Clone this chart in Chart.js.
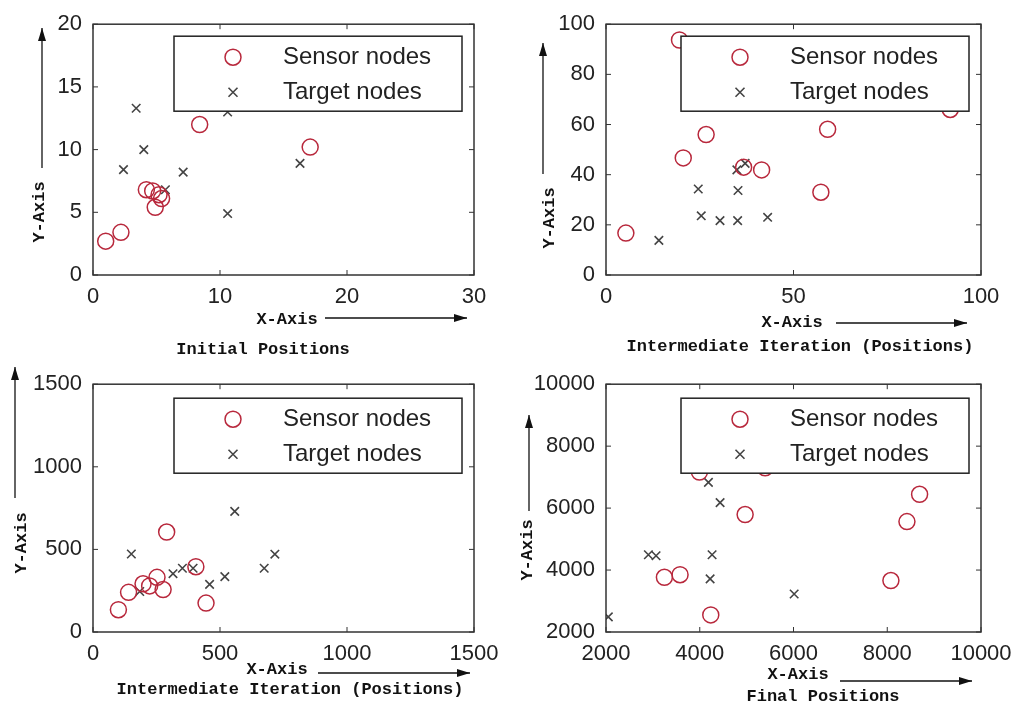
<!DOCTYPE html>
<html>
<head>
<meta charset="utf-8">
<script src="https://cdn.jsdelivr.net/npm/chart.js@4.4.0/dist/chart.umd.min.js"></script>
<style>
    body { margin: 0; background: #fff; }
    #lienzo { position: relative; width: 1029px; height: 708px; }
    #lienzo canvas { position: absolute; }
</style>
</head>
<body>
<div id="lienzo">
    <canvas id="graficoInicial" width="514" height="360" style="left:0;top:0"></canvas>
    <canvas id="graficoIntermedio1" width="515" height="360" style="left:514px;top:0"></canvas>
    <canvas id="graficoIntermedio2" width="514" height="348" style="left:0;top:360px"></canvas>
    <canvas id="graficoFinal" width="515" height="348" style="left:514px;top:360px"></canvas>
</div>
<script>
// Datos: pares [x, y]
const sensoresInicial = [[1.0, 2.7], [2.2, 3.4], [4.2, 6.8], [4.7, 6.7], [5.2, 6.4], [5.4, 6.1], [4.9, 5.4], [8.4, 12.0], [17.1, 10.2]];
const objetivosInicial = [[3.4, 13.3], [4.0, 10.0], [2.4, 8.4], [7.1, 8.2], [10.6, 13.0], [10.6, 4.9], [16.3, 8.9], [5.7, 6.8]];

const sensoresIntermedio1 = [[19.6, 93.7], [20.6, 46.7], [26.7, 56], [5.3, 16.7], [36.7, 43], [41.5, 41.9], [59.1, 58.1], [57.3, 33], [91.8, 66]];
const objetivosIntermedio1 = [[14.1, 13.8], [24.6, 34.3], [25.4, 23.6], [30.4, 21.7], [35.1, 21.7], [35.2, 33.7], [34.9, 41.9], [37.1, 44.5], [43.1, 23]];

const sensoresIntermedio2 = [[100, 135], [140, 240], [197, 292], [223, 279], [252, 331], [276, 257], [290, 605], [405, 395], [445, 175]];
const objetivosIntermedio2 = [[151, 472], [184, 245], [315, 353], [352, 386], [394, 386], [459, 288], [519, 335], [558, 730], [674, 386], [716, 471]];

const sensoresFinal = [[3993, 7164], [5395, 7299], [4968, 5792], [3246, 3766], [3580, 3849], [4235, 2551], [8078, 3662], [8420, 5564], [8690, 6447]];
const objetivosFinal = [[2050, 2488], [2904, 4494], [3068, 4462], [4185, 6831], [4434, 6177], [4263, 4494], [4221, 3714], [6014, 3226]];

const etiquetasSerie = ['Sensor nodes', 'Target nodes'];

const ejesInicial = { x: [0, 30, 10], y: [0, 20, 5] };
const ejesIntermedio1 = { x: [0, 100, 50], y: [0, 100, 20] };
const ejesIntermedio2 = { x: [0, 1500, 500], y: [0, 1500, 500] };
const ejesFinal = { x: [2000, 10000, 2000], y: [2000, 10000, 2000] };

const FUENTE_TICKS = { family: "'Liberation Sans', Arial, sans-serif", size: 22 };
const FUENTE_MONO = "bold 17px 'Liberation Mono', 'Courier New', monospace";
const ROJO = '#b8283c';
const GRIS = '#444';

function aPuntos(pares) {
    return pares.map(p => ({ x: p[0], y: p[1] }));
}

function flecha(ctx, x1, y1, x2, y2) {
    const ang = Math.atan2(y2 - y1, x2 - x1);
    ctx.beginPath();
    ctx.moveTo(x1, y1);
    ctx.lineTo(x2, y2);
    ctx.stroke();
    ctx.beginPath();
    ctx.moveTo(x2, y2);
    ctx.lineTo(x2 - 13 * Math.cos(ang) + 4 * Math.sin(ang), y2 - 13 * Math.sin(ang) - 4 * Math.cos(ang));
    ctx.lineTo(x2 - 13 * Math.cos(ang) - 4 * Math.sin(ang), y2 - 13 * Math.sin(ang) + 4 * Math.cos(ang));
    ctx.closePath();
    ctx.fill();
}

function marcador(ctx, tipo, x, y) {
    ctx.beginPath();
    if (tipo === 'circle') {
        ctx.strokeStyle = ROJO;
        ctx.lineWidth = 1.5;
        ctx.arc(x, y, 8, 0, Math.PI * 2);
    } else {
        ctx.strokeStyle = GRIS;
        ctx.lineWidth = 1.6;
        ctx.moveTo(x - 4.5, y - 4.5); ctx.lineTo(x + 4.5, y + 4.5);
        ctx.moveTo(x + 4.5, y - 4.5); ctx.lineTo(x - 4.5, y + 4.5);
    }
    ctx.stroke();
}

// Caja, marcas interiores, leyenda y rotulos con flechas
const marcoPlugin = {
    id: 'marco',
    afterDatasetsDraw(chart, args, opts) {
        const { ctx, chartArea: a, scales } = chart;
        ctx.save();
        ctx.strokeStyle = '#333';
        ctx.lineWidth = 1.5;
        ctx.strokeRect(a.left, a.top, a.width, a.height);

        ctx.lineWidth = 1;
        ctx.beginPath();
        scales.x.ticks.forEach(t => {
            const px = scales.x.getPixelForValue(t.value);
            ctx.moveTo(px, a.bottom); ctx.lineTo(px, a.bottom - 5);
            ctx.moveTo(px, a.top); ctx.lineTo(px, a.top + 5);
        });
        scales.y.ticks.forEach(t => {
            const py = scales.y.getPixelForValue(t.value);
            ctx.moveTo(a.left, py); ctx.lineTo(a.left + 5, py);
            ctx.moveTo(a.right, py); ctx.lineTo(a.right - 5, py);
        });
        ctx.stroke();

        // leyenda dentro del area
        const ancho = 288, alto = 75;
        const lx = a.right - 12 - ancho;
        const ly = a.top + opts.leyendaTop;
        ctx.fillStyle = '#fff';
        ctx.fillRect(lx, ly, ancho, alto);
        ctx.strokeStyle = '#222';
        ctx.lineWidth = 1.5;
        ctx.strokeRect(lx, ly, ancho, alto);
        ctx.font = "24px 'Liberation Sans', Arial, sans-serif";
        ctx.textBaseline = 'middle';
        ctx.textAlign = 'left';
        chart.data.datasets.forEach((ds, i) => {
            const fy = ly + 21 + i * 35;
            marcador(ctx, ds.pointStyle, lx + 59, fy);
            ctx.fillStyle = '#222';
            ctx.fillText(ds.label, lx + 109, fy);
        });
        ctx.restore();
    },
    afterDraw(chart, args, opts) {
        const ctx = chart.ctx;
        ctx.save();
        ctx.fillStyle = '#111';
        ctx.strokeStyle = '#111';
        ctx.lineWidth = 1.3;
        ctx.font = FUENTE_MONO;
        ctx.textBaseline = 'middle';
        ctx.textAlign = 'center';

        ctx.fillText('X-Axis', opts.ejeX[0], opts.ejeX[1]);
        flecha(ctx, opts.flechaX[0], opts.flechaX[2], opts.flechaX[1], opts.flechaX[2]);

        ctx.save();
        ctx.translate(opts.ejeY[0], opts.ejeY[1]);
        ctx.rotate(-Math.PI / 2);
        ctx.fillText('Y-Axis', 0, 0);
        ctx.restore();
        flecha(ctx, opts.flechaY[0], opts.flechaY[1], opts.flechaY[0], opts.flechaY[2]);

        ctx.fillText(opts.titulo, opts.posTitulo[0], opts.posTitulo[1]);
        ctx.restore();
    }
};

function crearGrafico(id, sensores, objetivos, ejes, anchoY, altoX, padDer, padSup, marco) {
    const ctx = document.getElementById(id).getContext('2d');
    const escala = (rango, esX) => ({
        type: 'linear',
        min: rango[0],
        max: rango[1],
        grid: { display: false, drawTicks: false },
        border: { display: false },
        ticks: {
            stepSize: rango[2],
            autoSkip: false,
            maxRotation: 0,
            padding: esX ? 9 : 11,
            color: '#222',
            font: FUENTE_TICKS,
            callback: v => String(v)
        },
        afterFit: s => {
            if (esX) s.height = altoX; else s.width = anchoY;
        }
    });
    return new Chart(ctx, {
        type: 'scatter',
        data: {
            datasets: [{
                label: etiquetasSerie[0],
                data: aPuntos(sensores),
                pointStyle: 'circle',
                pointRadius: 8,
                pointBorderWidth: 1.5,
                borderColor: ROJO,
                backgroundColor: 'rgba(0,0,0,0)'
            }, {
                label: etiquetasSerie[1],
                data: aPuntos(objetivos),
                pointStyle: 'crossRot',
                pointRadius: 6,
                pointBorderWidth: 1.6,
                borderColor: GRIS,
                backgroundColor: GRIS
            }]
        },
        options: {
            responsive: false,
            animation: false,
            layout: { padding: { left: 0, top: padSup, right: padDer, bottom: 0 } },
            scales: { x: escala(ejes.x, true), y: escala(ejes.y, false) },
            plugins: {
                legend: { display: false },
                tooltip: { enabled: false },
                marco: marco
            }
        },
        plugins: [marcoPlugin]
    });
}

crearGrafico('graficoInicial', sensoresInicial, objetivosInicial, ejesInicial, 93, 85, 40, 20, {
    leyendaTop: 12, ejeX: [287, 320], flechaX: [325, 467, 318], ejeY: [40, 212], flechaY: [42, 168, 28],
    titulo: 'Initial Positions', posTitulo: [263, 350]
});
crearGrafico('graficoIntermedio1', sensoresIntermedio1, objetivosIntermedio1, ejesIntermedio1, 92, 85, 48, 20, {
    leyendaTop: 12, ejeX: [278, 323], flechaX: [322, 453, 323], ejeY: [36, 218], flechaY: [29, 174, 43],
    titulo: 'Intermediate Iteration (Positions)', posTitulo: [286, 347]
});
crearGrafico('graficoIntermedio2', sensoresIntermedio2, objetivosIntermedio2, ejesIntermedio2, 93, 76, 40, 15, {
    leyendaTop: 14, ejeX: [277, 310], flechaX: [318, 470, 313], ejeY: [22, 183], flechaY: [15, 138, 7],
    titulo: 'Intermediate Iteration (Positions)', posTitulo: [290, 330]
});
crearGrafico('graficoFinal', sensoresFinal, objetivosFinal, ejesFinal, 92, 76, 48, 15, {
    leyendaTop: 14, ejeX: [284, 315], flechaX: [326, 458, 321], ejeY: [14, 190], flechaY: [15, 151, 55],
    titulo: 'Final Positions', posTitulo: [309, 337]
});
</script>
</body>
</html>
